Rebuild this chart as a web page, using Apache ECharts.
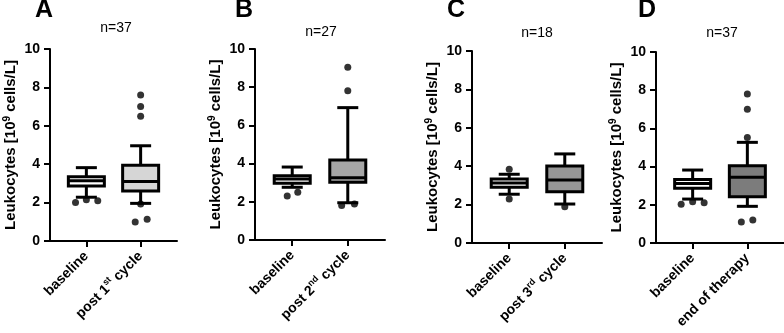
<!DOCTYPE html>
<html>
<head>
<meta charset="utf-8">
<script src="https://cdn.jsdelivr.net/npm/echarts@6/dist/echarts.min.js"></script>
<style>
  html, body { margin: 0; padding: 0; background: #fff; }
  #chart { width: 784px; height: 333px; }
</style>
</head>
<body>
<div id="chart"></div>
<script>
// panel info
const panelLetters = ['A', 'B', 'C', 'D']
const panelN = [37, 27, 18, 37]
const baselineLabel = 'baseline'
const postPrefix = ['post 1', 'post 2', 'post 3', 'end of therapy']
const postSup = ['st', 'nd', 'rd', '']
const postSuffix = [' cycle', ' cycle', ' cycle', '']

// box stats: [min, q1, median, q3, max]
const baselineBoxes = [
  [2.28, 2.86, 3.14, 3.35, 3.82],
  [2.76, 2.97, 3.19, 3.37, 3.82],
  [2.54, 2.90, 3.12, 3.33, 3.58],
  [2.30, 2.86, 3.12, 3.33, 3.82]
]
const postBoxes = [
  [1.96, 2.60, 3.10, 3.94, 4.96],
  [1.95, 3.02, 3.26, 4.19, 6.93],
  [2.03, 2.67, 3.28, 4.01, 4.64],
  [1.92, 2.42, 3.44, 4.05, 5.27]
]

// outliers: [group position (1 = baseline, 2 = post, with jitter), value]
const outliersA = [[0.8, 2.0], [1, 2.15], [1.21, 2.1], [2, 7.6], [2, 7.0], [2, 6.5], [2, 1.93], [1.9, 0.99], [2.12, 1.13]]
const outliersB = [[0.91, 2.3], [1.1, 2.5], [2, 9.04], [2, 7.82], [1.89, 1.8], [2.12, 1.88]]
const outliersC = [[1, 3.84], [1, 2.29], [2, 1.89]]
const outliersD = [[0.79, 2.03], [1, 2.16], [1.21, 2.11], [2, 7.8], [2, 7.0], [2, 5.53], [1.89, 1.1], [2.1, 1.2]]
const outliers = [outliersA, outliersB, outliersC, outliersD]

const FONT = '"Liberation Sans", Arial, Helvetica, sans-serif'
const postColors = ['#d6d6d6', '#a6a6a6', '#969696', '#7c7c7c']
const grids = [
  { left: 50, top: 49, width: 127, height: 192 },
  { left: 255, top: 49, width: 130, height: 191 },
  { left: 472, top: 51, width: 130, height: 192 },
  { left: 656, top: 52, width: 128, height: 191 }
]
const letterX = [44, 244, 456, 647]
const nX = [116, 321, 537, 722]
const nY = [28, 32, 33, 33]

function renderBox(params, api) {
  const x = api.value(0)
  const pts = [1, 2, 3, 4, 5].map(i => api.coord([x, api.value(i)]))
  const cx = pts[0][0]
  const half = 18
  const cap = 10.5
  const line = { stroke: '#000', lineWidth: 3 }
  const fill = api.visual('color')
  return {
    type: 'group',
    children: [
      { type: 'line', shape: { x1: cx, y1: pts[0][1], x2: cx, y2: pts[1][1] }, style: line },
      { type: 'line', shape: { x1: cx, y1: pts[3][1], x2: cx, y2: pts[4][1] }, style: line },
      { type: 'line', shape: { x1: cx - cap, y1: pts[0][1], x2: cx + cap, y2: pts[0][1] }, style: line },
      { type: 'line', shape: { x1: cx - cap, y1: pts[4][1], x2: cx + cap, y2: pts[4][1] }, style: line },
      {
        type: 'rect',
        shape: { x: cx - half, y: pts[3][1], width: half * 2, height: pts[1][1] - pts[3][1] },
        style: { fill: fill, stroke: '#000', lineWidth: 3 }
      },
      { type: 'line', shape: { x1: cx - half, y1: pts[2][1], x2: cx + half, y2: pts[2][1] }, style: line }
    ]
  }
}

const chart = echarts.init(document.getElementById('chart'), null, { renderer: 'canvas' })

const xAxes = []
const yAxes = []
const series = []
const graphics = []

const axisLine = { show: true, lineStyle: { color: '#000', width: 2, type: 'solid' } }
const axisTick = { show: true, length: 6, lineStyle: { color: '#000', width: 2 } }

grids.forEach((g, i) => {
  const labels = [baselineLabel, postPrefix[i] + (postSup[i] ? '{s|' + postSup[i] + '}' : '') + postSuffix[i]]
  xAxes.push({
    gridIndex: i,
    type: 'value',
    position: 'bottom',
    min: 0.33,
    max: 2.67,
    splitLine: { show: false },
    axisLine: axisLine,
    axisTick: Object.assign({ customValues: [1, 2] }, axisTick),
    axisLabel: {
      customValues: [1, 2],
      rotate: 45,
      margin: 13,
      color: '#000',
      fontSize: 14,
      fontWeight: 'bold',
      fontFamily: FONT,
      lineHeight: 18,
      formatter: v => labels[Math.round(v) - 1],
      rich: { s: { fontSize: 9, fontWeight: 'bold', fontFamily: FONT, color: '#000', verticalAlign: 'top', lineHeight: 10 } }
    }
  })
  yAxes.push({
    gridIndex: i,
    type: 'value',
    position: 'left',
    min: 0,
    max: 10,
    interval: 2,
    splitLine: { show: false },
    axisLine: axisLine,
    axisTick: axisTick,
    axisLabel: { color: '#000', fontSize: 14, fontWeight: 'bold', fontFamily: FONT, margin: 10 },
    name: 'Leukocytes [10{s|9} cells/L]',
    nameLocation: 'middle',
    nameGap: 30,
    nameRotate: 90,
    nameTextStyle: {
      color: '#000', fontSize: 15, fontWeight: 'bold', fontFamily: FONT, lineHeight: 18,
      rich: { s: { fontSize: 10, fontWeight: 'bold', fontFamily: FONT, color: '#000', verticalAlign: 'top', lineHeight: 10 } }
    }
  })
  series.push({
    type: 'custom',
    xAxisIndex: i,
    yAxisIndex: i,
    renderItem: renderBox,
    itemStyle: { color: '#ffffff' },
    encode: { x: 0, y: [1, 2, 3, 4, 5] },
    data: [[1].concat(baselineBoxes[i])],
    z: 2
  })
  series.push({
    type: 'custom',
    xAxisIndex: i,
    yAxisIndex: i,
    renderItem: renderBox,
    itemStyle: { color: postColors[i] },
    encode: { x: 0, y: [1, 2, 3, 4, 5] },
    data: [[2].concat(postBoxes[i])],
    z: 2
  })
  series.push({
    type: 'scatter',
    xAxisIndex: i,
    yAxisIndex: i,
    symbolSize: 7,
    itemStyle: { color: '#000' },
    data: outliers[i],
    z: 5
  })
  graphics.push({
    type: 'text', x: letterX[i], y: 10,
    style: { text: panelLetters[i], fill: '#000', font: 'bold 25px ' + FONT, align: 'center', verticalAlign: 'middle' }
  })
  graphics.push({
    type: 'text', x: nX[i], y: nY[i],
    style: { text: 'n=' + panelN[i], fill: '#000', font: '14px ' + FONT, align: 'center', verticalAlign: 'middle' }
  })
})

chart.setOption({
  animation: false,
  backgroundColor: '#fff',
  grid: grids,
  xAxis: xAxes,
  yAxis: yAxes,
  series: series,
  graphic: graphics
})
</script>
</body>
</html>
